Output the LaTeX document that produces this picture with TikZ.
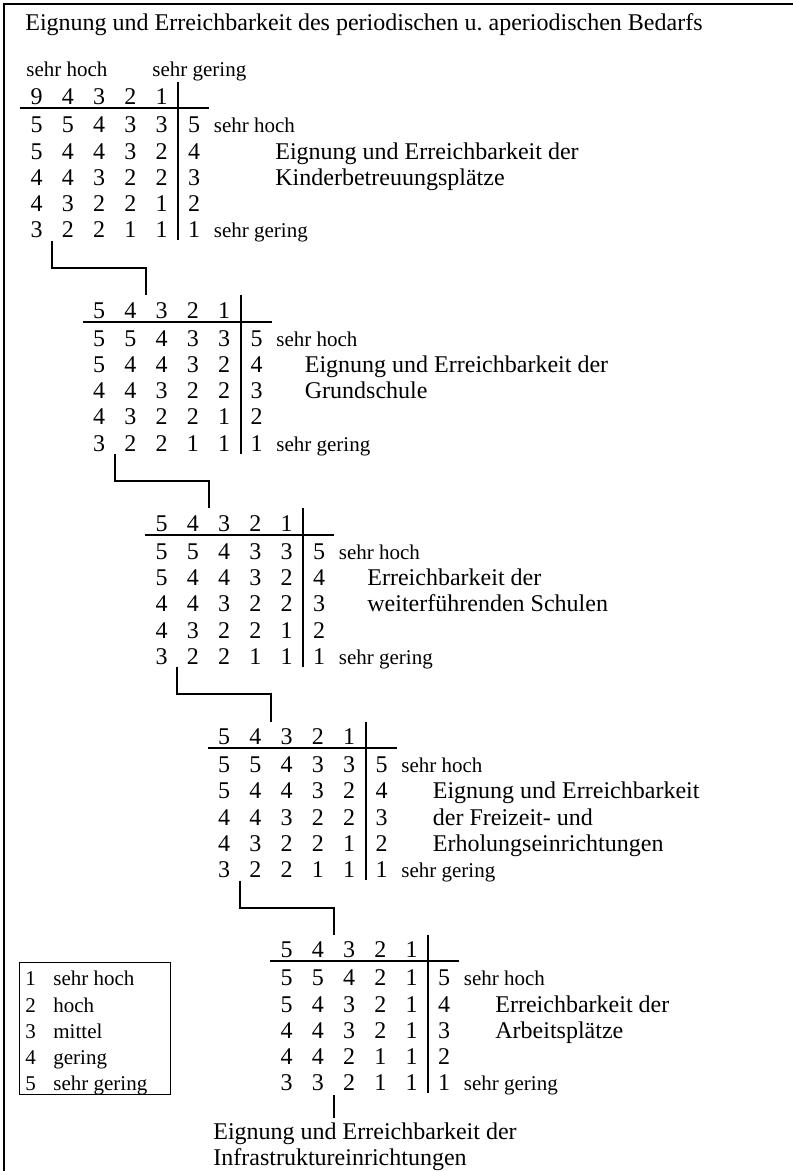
\documentclass[tikz,border=0pt]{standalone}
\usepackage{fontspec}
\setmainfont{Liberation Serif}
\frenchspacing
\tikzset{
  main/.style={font=\fontsize{12}{14}\selectfont, inner sep=0pt},
  small/.style={font=\fontsize{10.5}{12}\selectfont, inner sep=0pt},
  rulel/.style={line width=1pt},
  framel/.style={line width=1.3pt},
  conn/.style={line width=1pt},
  legbox/.style={line width=0.5pt}
}
\newcommand\drawtab[5]{%
  \draw[rulel] ({#2-158},{#3+11.5}) -- ({#2+31},{#3+11.5});
  \draw[rulel] ({#2},{#3-15}) -- ({#2},{#3+143.5});
  \foreach \d [count=\c] in {#4} {
    \node[main,anchor=base] (#1h\c) at ({#2-141.5+31.25*(\c-1)},{#3+8}) {\d};
  }
  \foreach \r [count=\k] in {#5} {
    \foreach \d [count=\c] in \r {
      \node[main,anchor=base] (#1r\k c\c) at ({#2-141.5+31.25*(\c-1)},{#3+36+26.2*(\k-1)}) {\d};
    }
    \pgfmathtruncatemacro\rv{6-\k}
    \node[main,anchor=base] (#1r\k c6) at ({#2+16},{#3+36+26.2*(\k-1)}) {\rv};
  }
  \node[small,anchor=base west] (#1hoch) at ({#2+35.5},{#3+36}) {sehr hoch};
  \node[small,anchor=base west] (#1gering) at ({#2+35.5},{#3+140.8}) {sehr gering};
}
\begin{document}
\begin{tikzpicture}[x=0.5pt,y=-0.5pt]
\useasboundingbox (0,0) rectangle (793,1171);
% frame
\draw[framel] (3,4) -- (793,4);
\draw[framel] (4,4) -- (4,1171);
% title
\node[main,anchor=base west] (title) at (25,31) {Eignung und Erreichbarkeit des periodischen u. aperiodischen Bedarfs};
\node[small,anchor=base west] (topHoch) at (26,77) {sehr hoch};
\node[small,anchor=base west] (topGering) at (152,77) {sehr gering};
% tables
\drawtab{A}{178}{97}{9,4,3,2,1}{{5,5,4,3,3},{5,4,4,3,2},{4,4,3,2,2},{4,3,2,2,1},{3,2,2,1,1}}
\drawtab{B}{240.5}{310.2}{5,4,3,2,1}{{5,5,4,3,3},{5,4,4,3,2},{4,4,3,2,2},{4,3,2,2,1},{3,2,2,1,1}}
\drawtab{C}{303}{523.4}{5,4,3,2,1}{{5,5,4,3,3},{5,4,4,3,2},{4,4,3,2,2},{4,3,2,2,1},{3,2,2,1,1}}
\drawtab{D}{365.5}{736.6}{5,4,3,2,1}{{5,5,4,3,3},{5,4,4,3,2},{4,4,3,2,2},{4,3,2,2,1},{3,2,2,1,1}}
\drawtab{E}{428}{949.8}{5,4,3,2,1}{{5,5,4,2,1},{5,4,3,2,1},{4,4,3,2,1},{4,4,2,1,1},{3,3,2,1,1}}
% labels
\node[main,anchor=base west] (Al1) at (275,159.2) {Eignung und Erreichbarkeit der};
\node[main,anchor=base west] (Al2) at (275,185.4) {Kinderbetreuungsplätze};
\node[main,anchor=base west] (Bl1) at (304.5,372.4) {Eignung und Erreichbarkeit der};
\node[main,anchor=base west] (Bl2) at (304.5,398.6) {Grundschule};
\node[main,anchor=base west] (Cl1) at (367,585.6) {Erreichbarkeit der};
\node[main,anchor=base west] (Cl2) at (367,611.8) {weiterführenden Schulen};
\node[main,anchor=base west] (Dl1) at (432.5,798.8) {Eignung und Erreichbarkeit};
\node[main,anchor=base west] (Dl2) at (432.5,825) {der Freizeit- und};
\node[main,anchor=base west] (Dl3) at (432.5,851.2) {Erholungseinrichtungen};
\node[main,anchor=base west] (El1) at (495,1012) {Erreichbarkeit der};
\node[main,anchor=base west] (El2) at (495,1038.2) {Arbeitsplätze};
% connectors
\coordinate (Aout) at (52,241);   \coordinate (ABm) at (99,268);   \coordinate (Bin) at (146,295.2);
\coordinate (Bout) at (114.5,454.2); \coordinate (BCm) at (161,481.2); \coordinate (Cin) at (208.5,508.4);
\coordinate (Cout) at (177,667.4); \coordinate (CDm) at (224,694.4); \coordinate (Din) at (271,721.6);
\coordinate (Dout) at (239.5,880.6); \coordinate (DEm) at (286,907.6); \coordinate (Ein) at (333.5,934.8);
\coordinate (Eout) at (333.5,1095); \coordinate (fin) at (333.5,1118);
\draw[conn] (Aout) |- (ABm) -| (Bin);
\draw[conn] (Bout) |- (BCm) -| (Cin);
\draw[conn] (Cout) |- (CDm) -| (Din);
\draw[conn] (Dout) |- (DEm) -| (Ein);
\draw[conn] (Eout) -- (fin);
\node[main,anchor=base west] (final1) at (213,1139) {Eignung und Erreichbarkeit der};
\node[main,anchor=base west] (final2) at (213,1165) {Infrastruktureinrichtungen};
% legend
\draw[legbox] (19,962) rectangle (170,1094);
\foreach \n/\t [count=\k] in {1/sehr hoch,2/hoch,3/mittel,4/gering,5/sehr gering} {
  \node[small,anchor=base west] (legn\k) at (25,{985.8+26.2*(\k-1)}) {\n};
  \node[small,anchor=base west] (legt\k) at (53,{985.8+26.2*(\k-1)}) {\t};
}
\end{tikzpicture}
\end{document}
